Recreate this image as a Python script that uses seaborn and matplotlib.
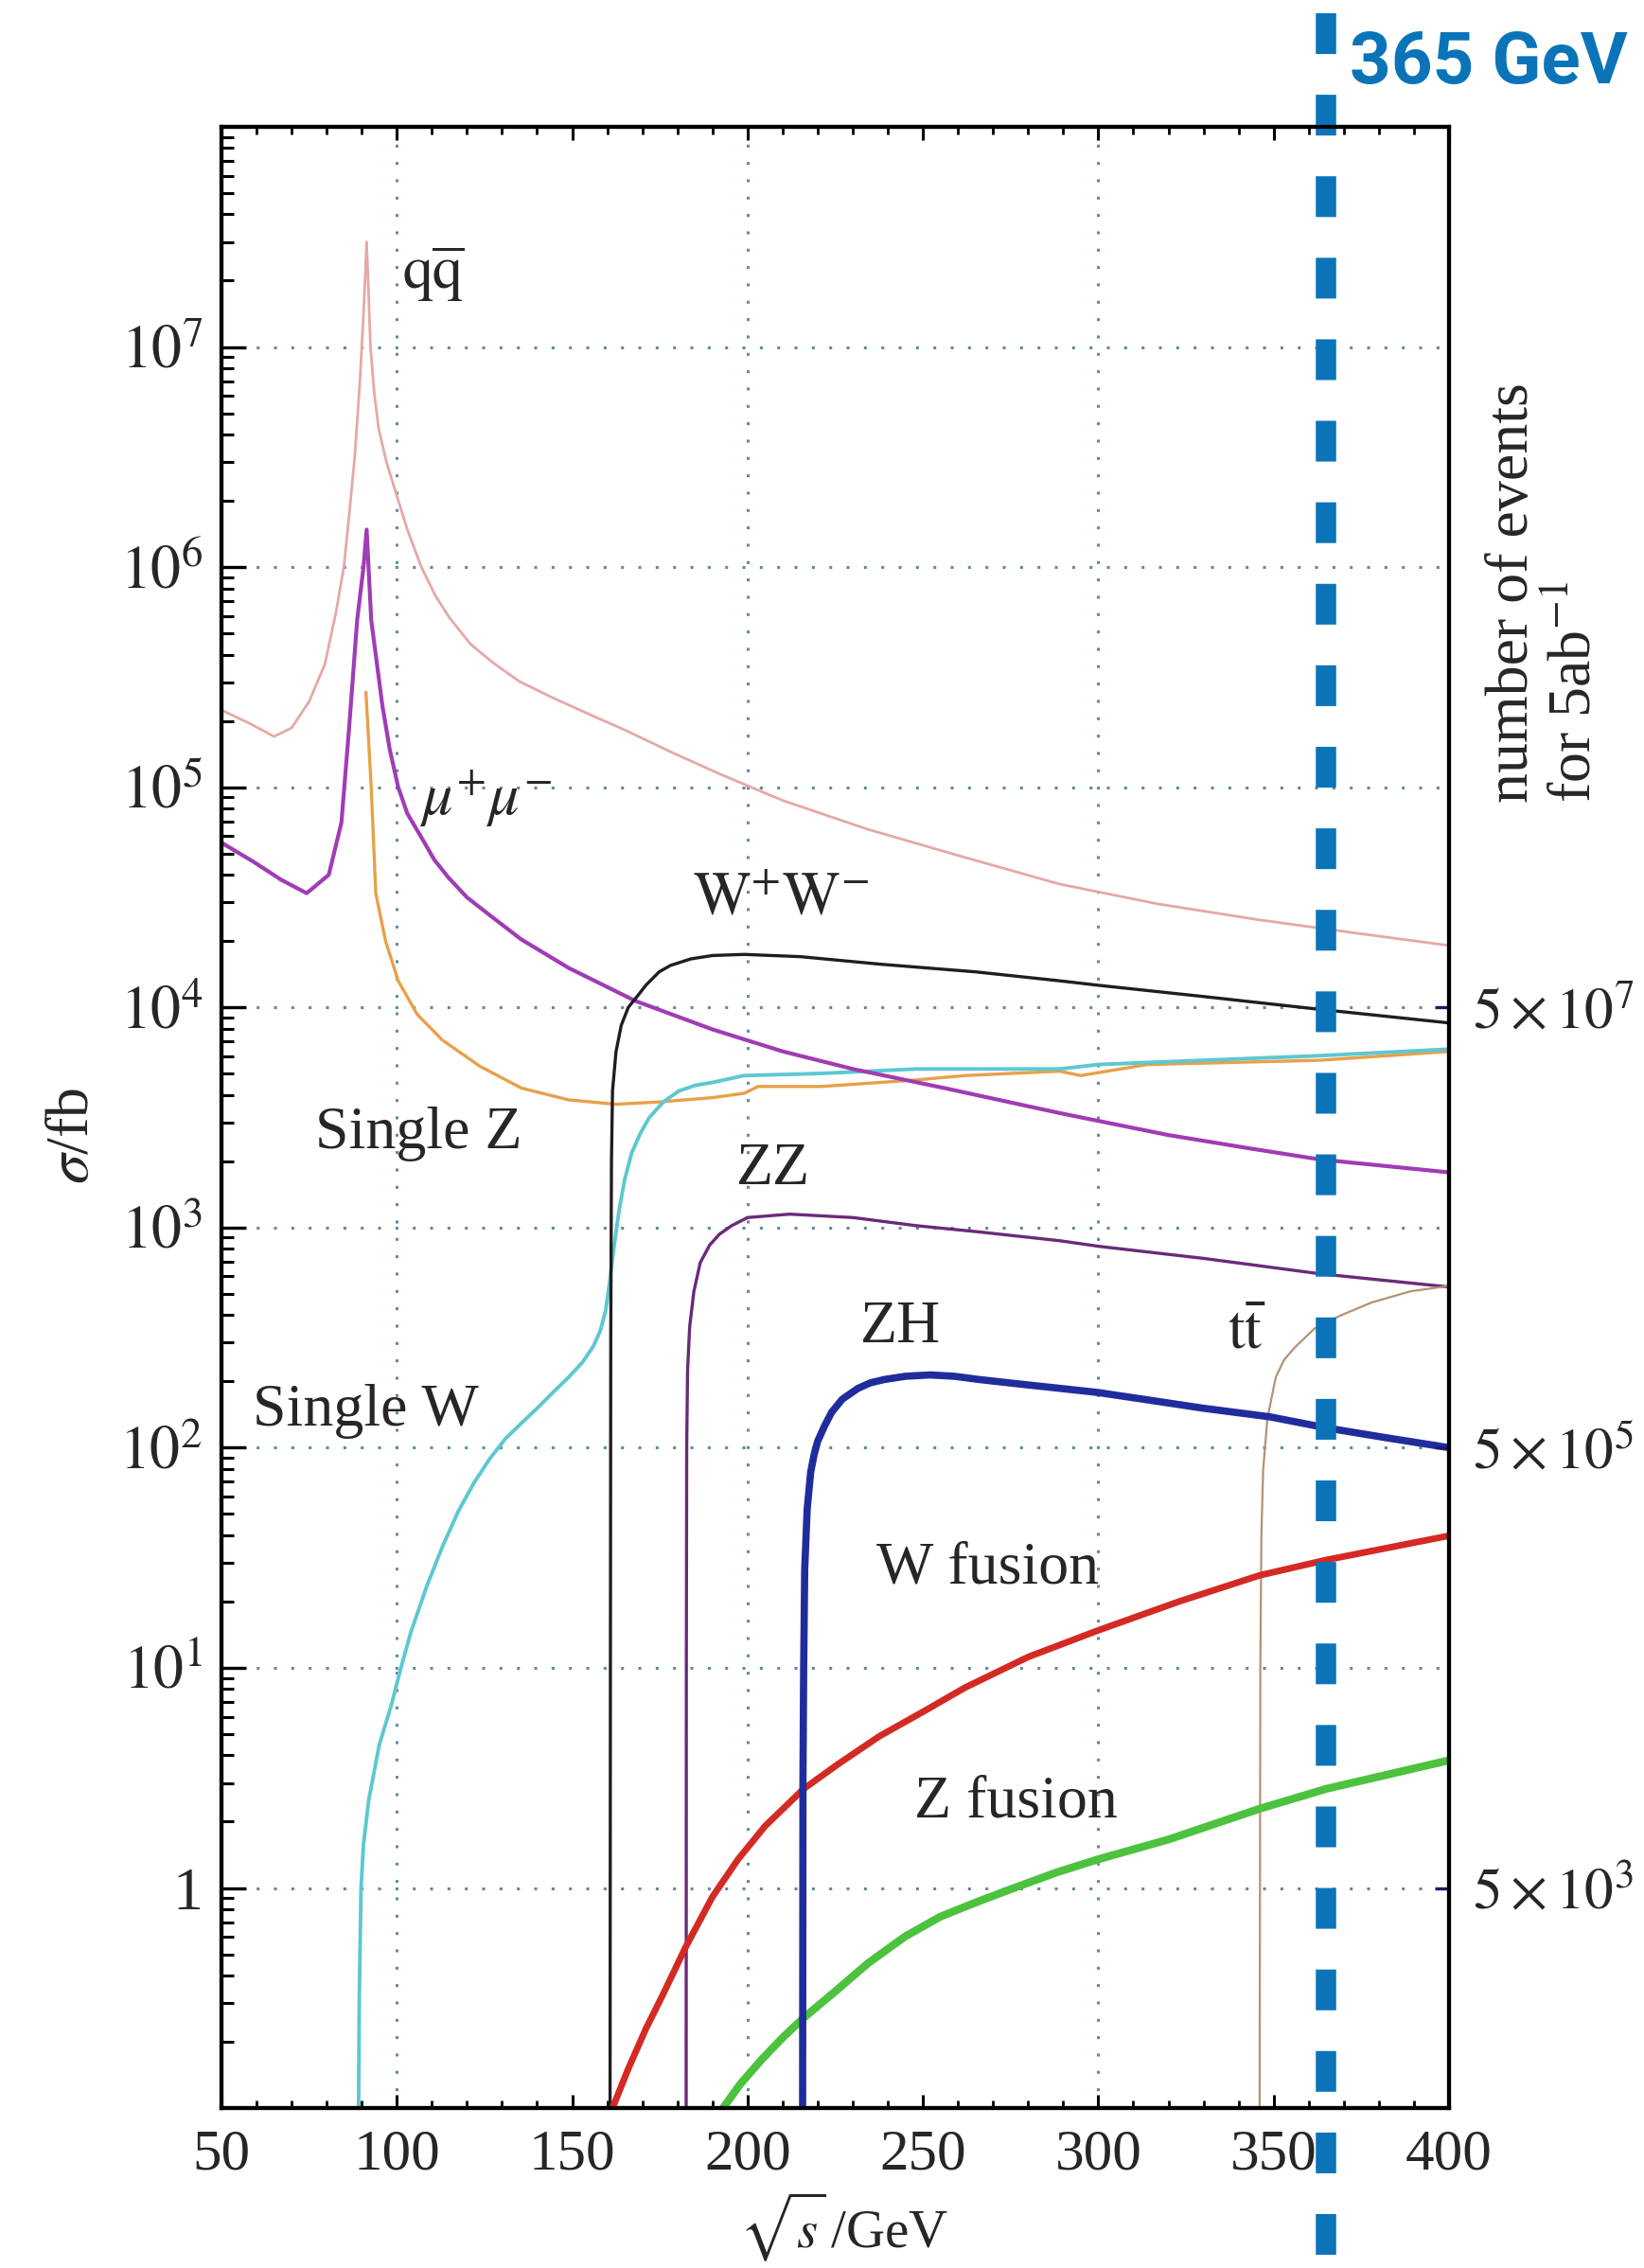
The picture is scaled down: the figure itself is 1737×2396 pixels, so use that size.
import numpy as np
import pandas as pd
import matplotlib
matplotlib.use("Agg")
import matplotlib.pyplot as plt
import matplotlib.ticker as mticker
import seaborn as sns

# cross sections (sigma in fb) vs sqrt(s) in GeV
qq_x = [50, 58, 65, 70, 75, 79.5, 82.6, 84.9, 86.5, 88, 89.5, 90.5, 91.4, 92.5, 93.5, 94.8, 97, 99.3, 103, 107, 111, 115, 121, 127, 135, 144, 155, 165, 178, 192, 210, 234, 260, 289, 317, 345, 372, 400]
qq_y = [2.24e5, 1.95e5, 1.70e5, 1.86e5, 2.45e5, 3.63e5, 6.17e5, 1.0e6, 1.78e6, 3.16e6, 7.08e6, 1.41e7, 3.0e7, 1.0e7, 6.31e6, 4.27e6, 3.02e6, 2.29e6, 1.48e6, 1.0e6, 7.41e5, 5.89e5, 4.47e5, 3.72e5, 3.02e5, 2.57e5, 2.14e5, 1.82e5, 1.45e5, 1.15e5, 8.71e4, 6.46e4, 4.9e4, 3.63e4, 2.95e4, 2.51e4, 2.19e4, 1.91e4]

mumu_x = [50, 59, 67, 74.3, 80.6, 84.2, 86.4, 88.7, 90.5, 91.4, 92.7, 95.9, 98, 100.4, 103, 106.7, 110.7, 114.7, 120, 126.4, 135.4, 149, 168, 190, 210, 230, 257, 289, 320, 343, 363, 400]
mumu_y = [5.6e4, 4.6e4, 3.8e4, 3.3e4, 4.0e4, 6.9e4, 1.86e5, 5.75e5, 1.0e6, 1.48e6, 5.75e5, 2.34e5, 1.48e5, 1.0e5, 7.59e4, 6.03e4, 4.68e4, 3.89e4, 3.16e4, 2.63e4, 2.04e4, 1.51e4, 1.07e4, 7.94e3, 6.31e3, 5.25e3, 4.27e3, 3.31e3, 2.63e3, 2.29e3, 2.04e3, 1.78e3]

singleZ_x = [91.2, 92.7, 94, 96.8, 100.4, 105.8, 113, 123.7, 135.5, 149, 162.4, 175, 190, 199, 203, 221, 248, 262, 289, 295, 314, 363, 400]
singleZ_y = [2.7e5, 1.0e5, 3.3e4, 2.0e4, 1.32e4, 9.3e3, 7.1e3, 5.4e3, 4.3e3, 3.8e3, 3.63e3, 3.72e3, 3.89e3, 4.07e3, 4.37e3, 4.37e3, 4.68e3, 4.9e3, 5.13e3, 4.9e3, 5.5e3, 5.75e3, 6.3e3]

singleW_x = [89.1, 89.3, 89.8, 90.5, 92, 95, 98.6, 101, 104, 108.5, 113, 117.5, 122, 126.5, 131, 135.5, 140, 144.5, 149, 153, 156, 158, 159.5, 160.5, 161.5, 162.5, 163.5, 165, 167, 169.5, 172, 176, 180.4, 185, 190.3, 199, 221, 248, 262, 289, 300, 330, 363, 400]
singleW_y = [0.1, 0.316, 1.0, 1.58, 2.51, 4.47, 6.92, 9.77, 14.5, 23.4, 35.5, 51.3, 69.2, 89.1, 110, 129, 151, 178, 209, 245, 288, 339, 417, 537, 724, 955, 1.23e3, 1.66e3, 2.19e3, 2.69e3, 3.16e3, 3.72e3, 4.17e3, 4.42e3, 4.57e3, 4.9e3, 5.01e3, 5.25e3, 5.25e3, 5.25e3, 5.5e3, 5.75e3, 6.03e3, 6.46e3]

ww_x = [160.8, 160.9, 161.0, 161.2, 161.5, 162.5, 164, 166, 168.5, 171, 174.8, 178, 183.8, 190, 199, 215, 238, 265, 289, 300, 330, 363, 400]
ww_y = [0.1, 10, 316, 2.0e3, 4.17e3, 6.3e3, 8.3e3, 1.0e4, 1.12e4, 1.26e4, 1.45e4, 1.55e4, 1.66e4, 1.72e4, 1.74e4, 1.70e4, 1.57e4, 1.45e4, 1.32e4, 1.26e4, 1.12e4, 9.8e3, 8.5e3]

zz_x = [182.5, 182.55, 182.65, 182.9, 183.5, 184.7, 186.5, 189.2, 192, 195.5, 200, 212, 230, 248, 266, 289, 300, 330, 363, 400]
zz_y = [0.1, 10, 100, 224, 355, 513, 692, 832, 933, 1.02e3, 1.11e3, 1.15e3, 1.11e3, 1.02e3, 955, 871, 822, 724, 617, 537]

zh_x = [215.7, 215.8, 216.0, 216.3, 217, 218, 219, 220, 222, 224, 227, 231.5, 235, 239, 245, 252, 259, 266, 277, 289, 300, 315, 330, 349, 365, 382, 400]
zh_y = [0.1, 3.16, 10, 28.2, 52.5, 77.6, 93.3, 107, 126, 145, 166, 186, 197, 204, 211, 214, 211, 204, 195, 186, 178, 164, 151, 138, 123, 111, 100]

tt_x = [346.0, 346.2, 346.5, 347.0, 348.2, 350.6, 353, 356, 361.6, 369, 378, 389, 400]
tt_y = [0.1, 10, 40, 79, 135, 209, 251, 285, 347, 398, 457, 513, 543]

wfus_x = [161.5, 166, 171, 176, 182.3, 190, 197.3, 205, 216, 226, 237.7, 250, 262, 280, 300, 323, 346, 365, 400]
wfus_y = [0.1, 0.151, 0.229, 0.331, 0.537, 0.912, 1.35, 1.91, 2.82, 3.67, 4.9, 6.31, 8.13, 11.2, 14.8, 20.0, 26.3, 30.9, 39.8]

zfus_x = [193, 198, 204, 210, 216, 225, 234.5, 245, 255, 266, 276, 288, 300, 320, 346, 365, 400]
zfus_y = [0.1, 0.129, 0.166, 0.209, 0.257, 0.339, 0.457, 0.603, 0.741, 0.871, 1.0, 1.175, 1.35, 1.66, 2.29, 2.82, 3.8]

x_ticks = [50, 100, 150, 200, 250, 300, 350, 400]
y_ticks = [1, 1e1, 1e2, 1e3, 1e4, 1e5, 1e6, 1e7]
y_tick_labels = ["1", r"$10^{1}$", r"$10^{2}$", r"$10^{3}$", r"$10^{4}$", r"$10^{5}$", r"$10^{6}$", r"$10^{7}$"]
grid_x = [100, 200, 300]
lumi = 5000  # 5 ab^-1 in fb^-1
events_ticks = [5e3, 5e5, 5e7]
events_labels = [r"$5\times10^{3}$", r"$5\times10^{5}$", r"$5\times10^{7}$"]
ecm = 365

sns.set_style("ticks")
plt.rcParams["font.family"] = ["Liberation Serif", "DejaVu Serif"]
plt.rcParams["mathtext.fontset"] = "stix"

fig = plt.figure(figsize=(17.37, 23.96), dpi=100)
ax = fig.add_axes([0.1347, 0.0705, 0.7467, 0.8736])
ax.set_yscale("log")

grid_color = "#5d8d99"
series = [
    (qq_x, qq_y, "#e6a8a6", 2.0),
    (singleZ_x, singleZ_y, "#e8a048", 2.4),
    (singleW_x, singleW_y, "#5cc8d2", 2.8),
    (mumu_x, mumu_y, "#a03cb4", 3.0),
    (ww_x, ww_y, "#1e1e1e", 2.4),
    (zz_x, zz_y, "#6a2a78", 2.4),
    (tt_x, tt_y, "#b39272", 1.6),
    (wfus_x, wfus_y, "#d42a24", 5.0),
    (zfus_x, zfus_y, "#4cc23e", 6.0),
    (zh_x, zh_y, "#1f2d9c", 5.5),
]
for xs, ys, col, lw in series:
    df = pd.DataFrame({"sqrt_s": xs, "sigma": ys})
    sns.lineplot(data=df, x="sqrt_s", y="sigma", ax=ax, color=col,
                 linewidth=lw, estimator=None, sort=False)

ax.set_xlim(50, 400)
ax.set_ylim(0.1, 1e8)
ax.set_xlabel("")
ax.set_ylabel("")

# axes and ticks
ax.set_xticks(x_ticks)
ax.set_xticklabels([str(v) for v in x_ticks])
ax.xaxis.set_minor_locator(mticker.MultipleLocator(10))
ax.set_yticks(y_ticks)
ax.set_yticklabels(y_tick_labels)
ax.yaxis.set_minor_locator(mticker.LogLocator(base=10, subs=np.arange(2, 10), numticks=30))
ax.yaxis.set_minor_formatter(mticker.NullFormatter())

ax.tick_params(axis="x", which="both", direction="in", top=True, bottom=True,
               labelsize=44, pad=16, color="black")
ax.tick_params(axis="x", which="major", length=10, width=2.2)
ax.tick_params(axis="x", which="minor", length=6, width=2.0)
ax.tick_params(axis="y", which="both", direction="in", left=True, right=False, color="black")
ax.tick_params(axis="y", which="major", length=19, width=2.4, labelsize=46, pad=14)
ax.tick_params(axis="y", which="minor", length=9.5, width=2.2)

for sp in ax.spines.values():
    sp.set_visible(True)
    sp.set_color("black")
    sp.set_linewidth(3)

ax.yaxis.grid(True, which="major", color=grid_color, linestyle=(0, (1, 5)), linewidth=2.2)
for gx in grid_x:
    ax.axvline(gx, color=grid_color, linestyle=(0, (1, 5)), linewidth=2.2, zorder=0.5)

# right axis: number of events for 5 ab^-1
ax2 = ax.twinx()
ax2.set_yscale("log")
ax2.set_ylim(0.1 * lumi, 1e8 * lumi)
ax2.set_yticks(events_ticks)
ax2.set_yticklabels(events_labels)
ax2.yaxis.set_minor_locator(mticker.NullLocator())
ax2.tick_params(axis="y", direction="in", length=11, width=2.4, color="#1c1c6a",
                labelsize=44, pad=18)
for sp in ax2.spines.values():
    sp.set_color("black")
    sp.set_linewidth(3)

# curve labels
labels = [
    (110.4, 2.14e7, r"$\mathrm{q\overline{q}}$"),
    (125.3, 8.9e4, r"$\mu^{+}\mu^{-}$"),
    (209.5, 3.05e4, r"$\mathrm{W^{+}W^{-}}$"),
    (106.1, 2.66e3, "Single Z"),
    (207.3, 1.82e3, "ZZ"),
    (91.0, 146, "Single W"),
    (243.7, 351, "ZH"),
    (342.5, 327, r"$\mathrm{t\bar{t}}$"),
    (268.6, 28.2, "W fusion"),
    (276.4, 2.43, "Z fusion"),
]
for lx, ly, txt in labels:
    ax.text(lx, ly, txt, fontsize=46, ha="center", va="center", zorder=6)

# 365 GeV marker line
ax.plot([ecm, ecm], [1.0573, -0.0807], transform=ax.get_xaxis_transform(),
        color="#0b74b8", linewidth=15.5, linestyle=(0, (2.0, 2.0)),
        solid_capstyle="butt", dash_capstyle="butt", clip_on=False, zorder=10)
fig.text(0.821, 0.9633, "365 GeV", color="#0b74b8", fontsize=55, fontweight="bold",
         family=["Roboto", "DejaVu Sans"], ha="left", va="baseline")

# axis titles
fig.text(0.0449, 0.4992, r"$\sigma$/fb", rotation=90, fontsize=46, ha="center", va="center")
fig.text(0.5135, 0.002, r"$\sqrt{s}\,$/GeV", fontsize=41, ha="center", va="bottom")
fig.text(0.9396, 0.7387, "number of events\nfor 5ab$^{-1}$", rotation=90, fontsize=46,
         ha="center", va="center", multialignment="left")

fig.savefig("out.png", dpi=100)
